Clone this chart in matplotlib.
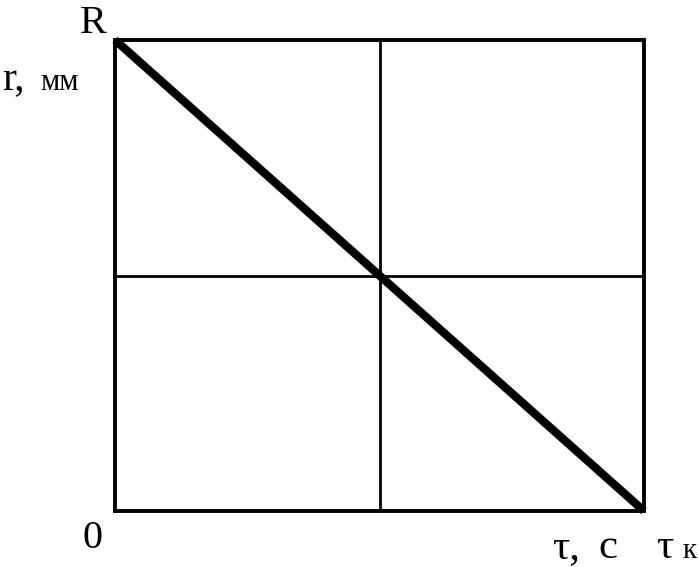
import matplotlib
matplotlib.use("Agg")
import matplotlib.pyplot as plt

# radius falls linearly from R to 0 over the time tau_k
tau = [0.0, 1.0]
r = [1.0, 0.0]
grid_x = [0.5]
grid_y = [0.5]

plt.rcParams['font.family'] = ['Liberation Serif', 'DejaVu Serif']

fig = plt.figure(figsize=(6.99, 5.67), dpi=100)
W, H = 699.0, 567.0
ax = fig.add_axes([115 / W, (H - 511) / H, (644 - 115) / W, (511 - 40) / H])

for gx in grid_x:
    ax.axvline(gx, color='black', lw=2.0)
for gy in grid_y:
    ax.axhline(gy, color='black', lw=2.0)
ax.plot(tau, r, color='black', lw=6, solid_capstyle='butt', clip_on=False)

ax.set_xlim(0, 1)
ax.set_ylim(0, 1)
ax.set_xticks([])
ax.set_yticks([])
for s in ax.spines.values():
    s.set_linewidth(2.8)

# labels around the frame (pixel positions from the top-left)
def label(x, y, s, size, ha='left'):
    fig.text(x / W, 1 - y / H, s, fontsize=size, ha=ha, va='baseline')

label(93, 33, "R", 29, ha='center')
label(2, 90, "r,", 30)
label(40, 90, "мм", 22)
label(93, 548, "0", 29, ha='center')
label(552, 558, "τ,", 31)
label(598, 558, "с", 31)
label(656, 558, "τ", 31)
label(683, 558, "к", 21)

fig.savefig("out.png", dpi=100)
